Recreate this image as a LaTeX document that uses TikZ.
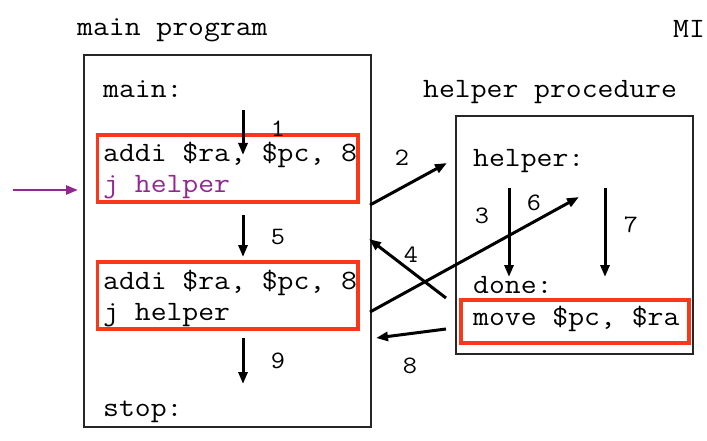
\documentclass[tikz,border=0pt]{standalone}
\usepackage{fontspec}
\setmonofont{Latin Modern Mono}[FakeStretch=1.1]
\usepackage{xcolor}
\usepackage{tikz}
\usetikzlibrary{arrows.meta}

\definecolor{hilite}{RGB}{250,55,25}
\definecolor{jump}{RGB}{146,39,143}

\tikzset{
	code/.style={anchor=base west,inner sep=0pt,font=\ttfamily\fontsize{28}{32}\selectfont},
	step num/.style={anchor=base,inner sep=0pt,font=\ttfamily\fontsize{25}{28}\selectfont},
	flow/.style={line width=3pt,-{Triangle[length=12pt,width=9pt]}},
	frame/.style={draw=black!85,line width=1.6pt},
	mark box/.style={draw=hilite,line width=3.8pt}
}

\begin{document}
\begin{tikzpicture}[x=1pt,y=-1pt]
	\useasboundingbox (0,0) rectangle (707,441);
	% headings
	\node[code] (mainhead) at (77,36) {main program};
	\node[code] (mi) at (673,38) {MI};
	\node[code] (helphead) at (423,98) {helper procedure};

	% main program box
	\draw[frame] (84,55) rectangle (371,427);
	\node[code] (mainlbl) at (103,98) {main:};
	\draw[mark box] (97.5,135) rectangle (358,202);
	\node[code] (addia) at (103,162) {addi \$ra, \$pc, 8};
	\node[code,text=jump] (jhelpa) at (103,193) {j helper};
	\draw[mark box] (97.5,262) rectangle (358,329);
	\node[code] (addib) at (103,289) {addi \$ra, \$pc, 8};
	\node[code] (jhelpb) at (103,320) {j helper};
	\node[code] (stoplbl) at (103,416) {stop:};

	% helper procedure box
	\draw[frame] (456,116) rectangle (693,354);
	\node[code] (helplbl) at (473,167) {helper:};
	\node[code] (donelbl) at (473,293) {done:};
	\draw[mark box] (461,300) rectangle (689,343);
	\node[code] (movelbl) at (473,325) {move \$pc, \$ra};

	% arrow ends
	\coordinate (s1a) at (243,110);   \coordinate (s1b) at (243,155);
	\coordinate (s2a) at (370,205);   \coordinate (s2b) at (447,163);
	\coordinate (s3a) at (509,188);   \coordinate (s3b) at (509,277);
	\coordinate (s4a) at (446,298);   \coordinate (s4b) at (369,239);
	\coordinate (s5a) at (243,215);   \coordinate (s5b) at (243,257);
	\coordinate (s6a) at (370,312);   \coordinate (s6b) at (579,197);
	\coordinate (s7a) at (605,188);   \coordinate (s7b) at (605,277);
	\coordinate (s8a) at (446,329);   \coordinate (s8b) at (376,338);
	\coordinate (s9a) at (243,338);   \coordinate (s9b) at (243,384);
	\coordinate (entry) at (13,190);  \coordinate (entryb) at (78,190);

	\draw[flow] (s1a) -- (s1b);
	\draw[flow] (s2a) -- (s2b);
	\draw[flow] (s3a) -- (s3b);
	\draw[flow] (s4a) -- (s4b);
	\draw[flow] (s5a) -- (s5b);
	\draw[flow] (s6a) -- (s6b);
	\draw[flow] (s7a) -- (s7b);
	\draw[flow] (s8a) -- (s8b);
	\draw[flow] (s9a) -- (s9b);
	\draw[jump,line width=2.6pt,-{Triangle[length=12pt,width=9pt]}] (entry) -- (entryb);

	% step numbers
	\node[step num] (n1) at (278,137) {1};
	\node[step num] (n2) at (402,165) {2};
	\node[step num] (n3) at (482,223) {3};
	\node[step num] (n4) at (411,262) {4};
	\node[step num] (n5) at (278,244) {5};
	\node[step num] (n6) at (534,210) {6};
	\node[step num] (n7) at (631,232) {7};
	\node[step num] (n8) at (410,373) {8};
	\node[step num] (n9) at (278,368) {9};
\end{tikzpicture}
\end{document}
